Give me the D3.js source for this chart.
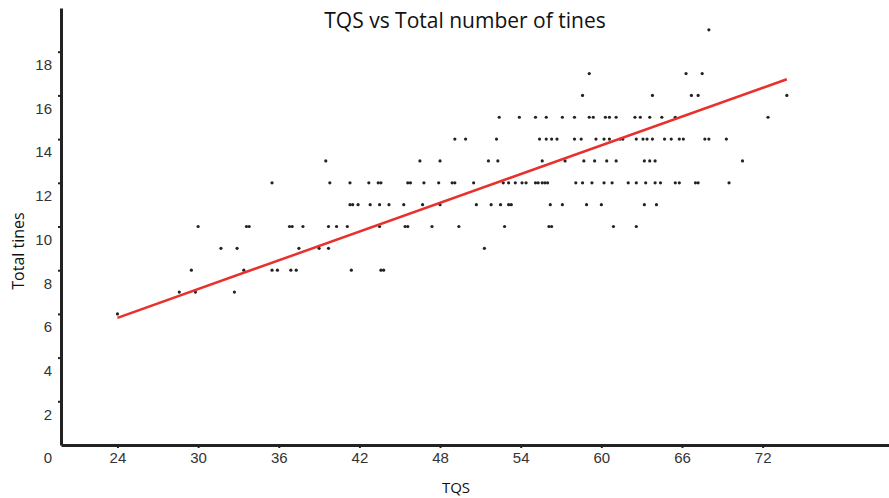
<!DOCTYPE html>
<html>
<head>
<meta charset="utf-8">
<script src="https://cdn.jsdelivr.net/npm/d3@7"></script>
<style>
  body { margin: 0; background: #fff; }
  svg { display: block; }
</style>
</head>
<body>
<div id="chart"></div>
<script>
// x ticks / y ticks
const xTicks = [24, 30, 36, 42, 48, 54, 60, 66, 72];
const yTicks = [0, 2, 4, 6, 8, 10, 12, 14, 16, 18];

// TQS values grouped by total tines (one row per y value)
const rowY = [6, 7, 8, 9, 10, 11, 12, 13, 14, 15, 16, 17, 19];
const rowX = [
  [24.0],
  [28.6, 29.8, 32.7],
  [29.5, 33.4, 35.5, 35.9, 36.9, 37.3, 41.4, 43.6, 43.8],
  [31.7, 32.9, 37.5, 39.0, 39.7, 51.3],
  [30.0, 33.6, 33.8, 36.8, 37.0, 37.8, 39.7, 40.3, 41.1, 43.5, 45.4, 45.6, 47.4, 49.4, 52.8, 56.1, 56.3, 60.9, 62.6],
  [41.3, 41.5, 41.9, 42.8, 43.5, 44.2, 45.3, 46.7, 48.0, 50.7, 51.8, 52.5, 53.1, 53.3, 56.2, 57.1, 58.9, 60.0, 63.2, 64.1],
  [35.5, 39.8, 41.3, 42.7, 43.4, 43.6, 45.6, 45.8, 46.8, 47.9, 48.9, 49.1, 50.5, 52.7, 53.1, 53.6, 54.1, 54.4, 55.1, 55.3, 55.6, 55.8, 56.0, 58.1, 58.6, 59.3, 60.2, 60.8, 62.0, 62.6, 63.3, 64.0, 64.4, 65.5, 65.8, 67.0, 67.2, 69.5],
  [39.5, 46.5, 48.0, 51.6, 52.3, 55.6, 57.3, 58.7, 59.5, 60.4, 61.1, 63.2, 63.6, 64.0, 70.5],
  [49.1, 49.9, 52.2, 55.4, 55.9, 56.3, 56.7, 58.0, 58.5, 59.6, 60.2, 60.6, 61.4, 61.6, 62.6, 63.1, 63.4, 63.8, 64.7, 65.2, 65.8, 66.1, 67.7, 68.0, 69.3],
  [52.4, 53.9, 55.1, 55.9, 57.1, 58.0, 59.1, 59.4, 60.3, 60.6, 61.1, 62.5, 62.9, 63.6, 64.5, 65.5, 72.4],
  [58.6, 63.8, 66.7, 67.2, 73.8],
  [59.1, 66.3, 67.5],
  [68.0]
];

// fitted line end points
const fitX = [24, 73.8];
const fitY = [5.82, 16.74];

const W = 889, H = 498;
const points = rowY.flatMap((yv, i) => rowX[i].map(xv => ({ x: xv, y: yv })));

const svg = d3.select("#chart").append("svg")
  .attr("width", W)
  .attr("height", H);

const x = d3.scaleLinear().domain([19.8, 81.4]).range([61, 889]);
const y = d3.scaleLinear().domain([0, 20]).range([445, 8]);

// axes
const gx = svg.append("g")
  .attr("transform", "translate(0,445)")
  .call(d3.axisBottom(x).tickValues(xTicks).tickSize(3).tickPadding(4).tickSizeOuter(0));

const gy = svg.append("g")
  .attr("transform", "translate(61,0)")
  .call(d3.axisLeft(y).tickValues(yTicks).tickSize(3).tickPadding(6).tickSizeOuter(0));

[gx, gy].forEach(g => {
  g.select(".domain").attr("stroke", "#222").attr("stroke-width", 3);
  g.selectAll(".tick line").attr("stroke", "#222").attr("stroke-width", 2);
  g.selectAll(".tick text")
    .attr("fill", "#333")
    .style("font-family", "'Liberation Sans Narrow', 'Arial Narrow', Arial, sans-serif")
    .style("font-size", "15px");
});
// y labels sit a little below their ticks in the original
gy.selectAll(".tick text").attr("transform", "translate(0,13)");
gy.select(".tick line").attr("display", "none");

// points
svg.append("g")
  .attr("fill", "#222")
  .selectAll("circle")
  .data(points)
  .join("circle")
  .attr("cx", d => x(d.x))
  .attr("cy", d => y(d.y))
  .attr("r", 1.6);

// fit line
svg.append("line")
  .attr("x1", x(fitX[0])).attr("y1", y(fitY[0]))
  .attr("x2", x(fitX[1])).attr("y2", y(fitY[1]))
  .attr("stroke", "#e8302c")
  .attr("stroke-width", 2.5);

// titles
svg.append("text")
  .attr("x", 465)
  .attr("y", 28)
  .attr("text-anchor", "middle")
  .style("font-family", "'Open Sans', sans-serif")
  .style("font-size", "21px")
  .attr("fill", "#111")
  .text("TQS vs Total number of tines");

svg.append("text")
  .attr("x", 456)
  .attr("y", 493)
  .attr("text-anchor", "middle")
  .style("font-family", "'Open Sans', sans-serif")
  .style("font-size", "15px")
  .attr("fill", "#111")
  .text("TQS");

svg.append("text")
  .attr("transform", "translate(24,251) rotate(-90)")
  .attr("text-anchor", "middle")
  .style("font-family", "'Open Sans', sans-serif")
  .style("font-size", "16px")
  .attr("fill", "#111")
  .text("Total tines");
</script>
</body>
</html>
